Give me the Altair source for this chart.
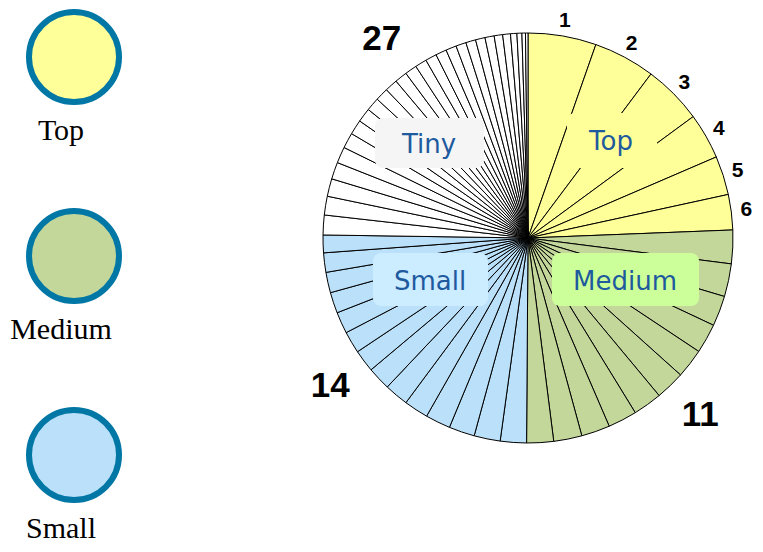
import math
import altair as alt
import pandas as pd

# ---------------- data ----------------
group_names = ["Top", "Medium", "Small", "Tiny"]
top_values = [19.3, 17.5, 16.8, 13.0, 11.0, 10.0]
medium_values = [9.5, 9.3, 8.6, 8.4, 8.3, 8.3, 8.2, 8.2, 8.1, 8.0, 7.6]
small_values = [7.4, 7.4, 7.3, 7.1, 6.9, 6.8, 6.6, 6.3, 6.2, 6.1, 5.9, 5.8, 5.5, 5.0]
tiny_values = [5.6, 5.3, 5.0, 4.8, 4.6, 4.4, 4.2, 4.0, 3.8, 3.7, 3.6, 3.5, 3.4,
               3.3, 3.2, 3.1, 3.0, 2.9, 2.8, 2.7, 2.6, 2.4, 2.2, 1.8, 1.4, 1.0, 0.7]
rank_labels = ["1", "2", "3", "4", "5", "6"]
legend_names = ["Top", "Medium", "Small"]
count_groups = ["Medium", "Small", "Tiny"]

# ---------------- styles / layout ----------------
slice_colors = ["#FFFF99", "#C4D79B", "#BBE0F9", "#FFFFFF"]
CX, CY, R = 520, 230, 205
count_angles = [135.8, 233.2, 323.7]

rows = []
k = 0
for g, vals in zip(group_names, [top_values, medium_values, small_values, tiny_values]):
    for i, v in enumerate(vals):
        rows.append({"idx": k, "group": g, "value": v,
                     "rank": rank_labels[i] if g == "Top" else ""})
        k += 1
slices = pd.DataFrame(rows)

group_lists = {"Top": top_values, "Medium": medium_values, "Small": small_values, "Tiny": tiny_values}
counts = pd.DataFrame({
    "group": count_groups,
    "count": [str(len(group_lists[g])) for g in count_groups],
    "angle": count_angles,
})

boxes = pd.DataFrame({
    "label": ["Tiny", "Top", "Small", "Medium"],
    "x1": [367, 559, 365, 544], "x2": [476, 649, 480, 691],
    "y1": [110, 105, 245, 245], "y2": [160, 160, 298, 298],
    "tx": [421, 603, 422, 617], "ty": [145, 142, 282, 282],
    "fill": ["#F5F5F5", "#FFFF99", "#CCECFF", "#CCFF99"],
})

legend_df = pd.DataFrame({"group": legend_names})

# ---------------- chart ----------------
base = alt.Chart(slices).encode(
    theta=alt.Theta("value:Q", stack=True),
    order=alt.Order("idx:Q"),
    x=alt.value(CX),
    y=alt.value(CY),
)

pie = base.mark_arc(outerRadius=R, stroke="black", strokeWidth=1).encode(
    color=alt.Color("group:N", scale=alt.Scale(domain=group_names, range=slice_colors), legend=None)
)

ranks = base.mark_text(radius=220, font="Liberation Sans", fontWeight="bold",
                       fontSize=21, color="black", baseline="middle", align="center").encode(
    text="rank:N"
)

count_layer = alt.Chart(counts).mark_text(
    radius=247, font="Liberation Sans", fontWeight="bold", fontSize=35,
    color="black", baseline="middle", align="center"
).encode(
    theta=alt.Theta("angle:Q", stack=False,
                    scale=alt.Scale(domain=[0, 360], range=[0, 2 * math.pi])),
    text="count:N",
    x=alt.value(CX),
    y=alt.value(CY),
)

box_rect = alt.Chart(boxes).mark_rect(cornerRadius=8).encode(
    x=alt.X("x1:Q", scale=None), x2="x2:Q",
    y=alt.Y("y1:Q", scale=None), y2="y2:Q",
    fill=alt.Fill("fill:N", scale=None),
)

box_text = alt.Chart(boxes).mark_text(
    font="DejaVu Sans", fontSize=26, color="#1F5A9E", align="center", baseline="alphabetic"
).encode(
    x=alt.X("tx:Q", scale=None),
    y=alt.Y("ty:Q", scale=None),
    text="label:N",
)

legend_y = alt.Y("group:N", sort=legend_names,
                 scale=alt.Scale(type="point", range=[49, 447], padding=0), axis=None)

legend_circles = alt.Chart(legend_df).mark_point(
    shape="circle", filled=True, size=8100, stroke="#0077A5", strokeWidth=6, opacity=1
).encode(
    x=alt.value(66),
    y=legend_y,
    fill=alt.Fill("group:N", scale=alt.Scale(domain=group_names, range=slice_colors), legend=None),
)

legend_text = alt.Chart(legend_df).mark_text(
    font="Liberation Serif", fontSize=30, color="black", align="center",
    baseline="alphabetic", dy=83
).encode(
    x=alt.value(53),
    y=legend_y,
    text="group:N",
)

chart = alt.layer(
    pie, ranks, count_layer, box_rect, box_text, legend_circles, legend_text
).resolve_scale(
    theta="independent", x="independent", y="independent"
).properties(
    width=747, height=536, padding=0, autosize="none", background="white"
).configure_view(strokeWidth=0)

chart.save("out.html", embed_options={"renderer": "svg", "actions": False})
